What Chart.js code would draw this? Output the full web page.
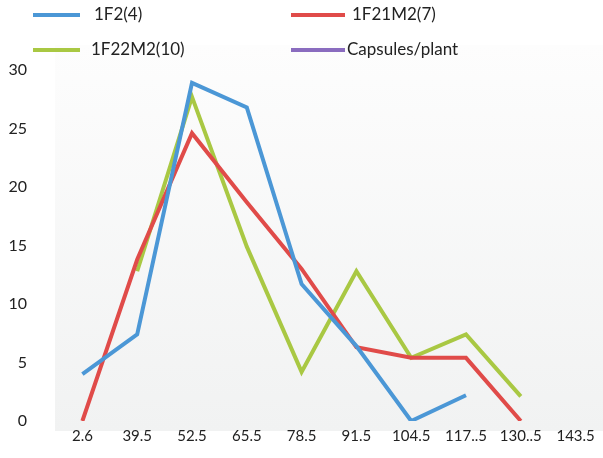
<!DOCTYPE html>
<html>
<head>
<meta charset="utf-8">
<script src="https://cdn.jsdelivr.net/npm/chart.js@4/dist/chart.umd.min.js"></script>
<style>
  html, body { margin: 0; padding: 0; background: #fff; }
  #wrap { width: 603px; height: 458px; }
</style>
</head>
<body>
<div id="wrap"><canvas id="capChart" width="603" height="458"></canvas></div>
<script>
// classes of capsules/plant
const categories = ["2.6", "39.5", "52.5", "65.5", "78.5", "91.5", "104.5", "117..5", "130..5", "143.5"];

// values
const f2 = [4.0, 7.4, 28.9, 26.8, 11.7, 6.4, 0, 2.2, null, null];
const f21m2 = [0, 13.8, 24.6, 18.7, 13.0, 6.3, 5.4, 5.4, 0, null];
const f22m2 = [null, 12.8, 27.7, 14.9, 4.2, 12.8, 5.4, 7.4, 2.1, null];
const capsules = [];

const yTicks = [0, 5, 10, 15, 20, 25, 30];

const fontName = "Lato, 'Open Sans', sans-serif";

// light grey panel behind the lines
const panelBg = {
    id: "panelBg",
    beforeDraw(chart) {
        let a = chart.chartArea;
        let c = chart.ctx;
        let g = c.createLinearGradient(0, a.top - 25, 0, a.bottom + 10);
        g.addColorStop(0, "#fdfdfd");
        g.addColorStop(1, "#f1f2f2");
        c.save();
        c.fillStyle = g;
        c.fillRect(a.left, a.top - 25, a.right - a.left, a.bottom - a.top + 35);
        c.restore();
    }
};

// y tick labels, placed by the y scale, drawn well left of the panel
const yLabels = {
    id: "yLabels",
    afterDraw(chart) {
        let s = chart.scales.y;
        let c = chart.ctx;
        c.save();
        c.font = "16px " + fontName;
        c.fillStyle = "#222";
        c.textAlign = "right";
        c.textBaseline = "middle";
        yTicks.forEach(function (v) {
            c.fillText(String(v), chart.chartArea.left - 28, s.getPixelForValue(v));
        });
        c.restore();
    }
};

// two column legend at the top
const topLegend = {
    id: "topLegend",
    afterDraw(chart) {
        let c = chart.ctx;
        c.save();
        c.font = "17px " + fontName;
        c.textBaseline = "middle";
        c.fillStyle = "#222";
        chart.data.datasets.forEach(function (ds, i) {
            let col = i % 2;
            let row = Math.floor(i / 2);
            let x = col === 0 ? 33 : 291;
            let w = col === 0 ? 47 : 54;
            let y = row === 0 ? 15 : 50;
            c.strokeStyle = ds.borderColor;
            c.lineWidth = 4;
            c.beginPath();
            c.moveTo(x, y);
            c.lineTo(x + w, y);
            c.stroke();
            let tx = [94, 352, 91, 347][i];
            c.fillText(ds.label, tx, y);
        });
        c.restore();
    }
};

new Chart(document.getElementById("capChart"), {
    type: "line",
    data: {
        labels: categories,
        datasets: [
            { label: "1F2(4)", data: f2, borderColor: "#4b97d6" },
            { label: "1F21M2(7)", data: f21m2, borderColor: "#e04b49" },
            { label: "1F22M2(10)", data: f22m2, borderColor: "#a9c843" },
            { label: "Capsules/plant", data: capsules, borderColor: "#8a6cbf" }
        ]
    },
    options: {
        responsive: false,
        animation: false,
        devicePixelRatio: 1,
        elements: {
            line: { borderWidth: 4, tension: 0 },
            point: { radius: 0, hoverRadius: 0 }
        },
        layout: { padding: { top: 70, left: 8, right: 0, bottom: 7 } },
        plugins: {
            legend: { display: false },
            tooltip: { enabled: false }
        },
        scales: {
            x: {
                offset: true,
                grid: { display: false, drawTicks: false },
                border: { display: false },
                ticks: {
                    autoSkip: false,
                    maxRotation: 0,
                    padding: 6,
                    color: "#222",
                    font: { family: fontName, size: 15 }
                }
            },
            y: {
                min: 0,
                max: 30,
                afterFit(axis) {
                    axis.width = 47;
                },
                grid: { display: false, drawTicks: false },
                border: { display: false },
                ticks: { display: false }
            }
        }
    },
    plugins: [panelBg, yLabels, topLegend]
});
</script>
</body>
</html>
